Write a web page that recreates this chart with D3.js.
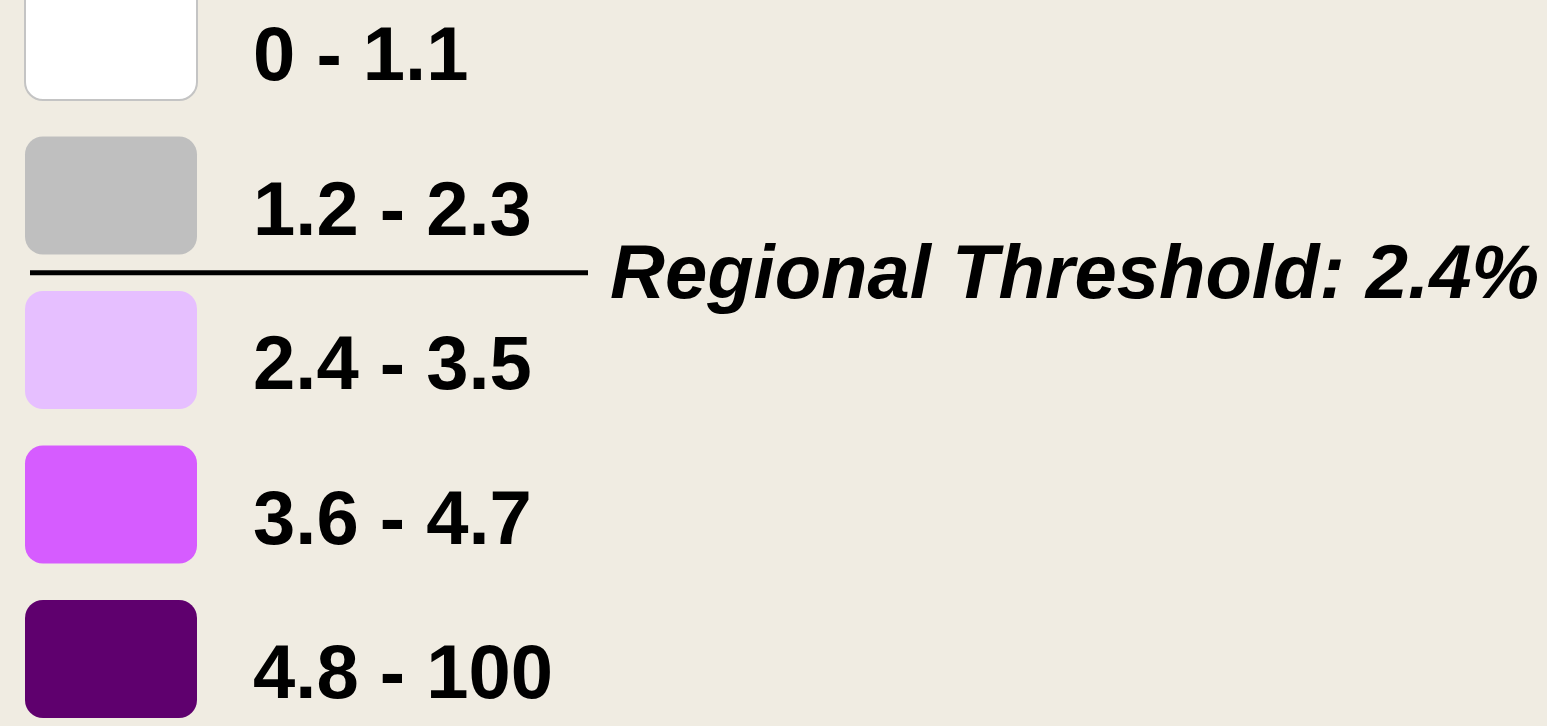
<!DOCTYPE html>
<html>
<head>
<meta charset="utf-8">
<script src="https://cdn.jsdelivr.net/npm/d3@7"></script>
<style>
  html, body { margin: 0; padding: 0; background: #f0ece2; overflow: hidden; }
  svg { display: block; }
  text { font-family: "Liberation Sans", Arial, sans-serif; font-weight: bold; fill: #000; }
</style>
</head>
<body>
<svg id="legend"></svg>
<script>
// legend classes (percent ranges) and their fills
const classLabels = ['0 - 1.1', '1.2 - 2.3', '2.4 - 3.5', '3.6 - 4.7', '4.8 - 100'];
const classColors = ['#ffffff', '#bfbfbf', '#e6bfff', '#d65cff', '#5f006e'];
const thresholdLabel = 'Regional Threshold: 2.4%';
const thresholdAfter = 1; // line sits between class 1 and class 2

const width = 1547;
const height = 726;

const svg = d3.select('#legend')
  .attr('width', width)
  .attr('height', height);

// row centres
const y = d3.scaleLinear()
  .domain([0, classLabels.length - 1])
  .range([41, 659]);

const swatchW = 172;
const swatchH = 118;

const rows = svg.selectAll('g.row')
  .data(classLabels)
  .join('g')
  .attr('class', 'row')
  .attr('transform', (d, i) => 'translate(0,' + y(i) + ')');

rows.append('rect')
  .attr('x', 25)
  .attr('y', -swatchH / 2)
  .attr('width', swatchW)
  .attr('height', swatchH)
  .attr('rx', 18)
  .attr('ry', 18)
  .attr('fill', (d, i) => classColors[i])
  .attr('stroke', (d, i) => i === 0 ? '#c4c4c4' : 'none')
  .attr('stroke-width', 2);

rows.append('text')
  .attr('x', 253)
  .attr('y', 39)
  .style('font-size', '76px')
  .text(d => d);

// threshold marker
const ty = (y(thresholdAfter) + y(thresholdAfter + 1)) / 2;

svg.append('line')
  .attr('x1', 30)
  .attr('x2', 588)
  .attr('y1', ty)
  .attr('y2', ty)
  .attr('stroke', '#000')
  .attr('stroke-width', 5);

svg.append('text')
  .attr('x', 610)
  .attr('y', ty + 25)
  .style('font-size', '76px')
  .style('font-style', 'italic')
  .text(thresholdLabel);
</script>
</body>
</html>
